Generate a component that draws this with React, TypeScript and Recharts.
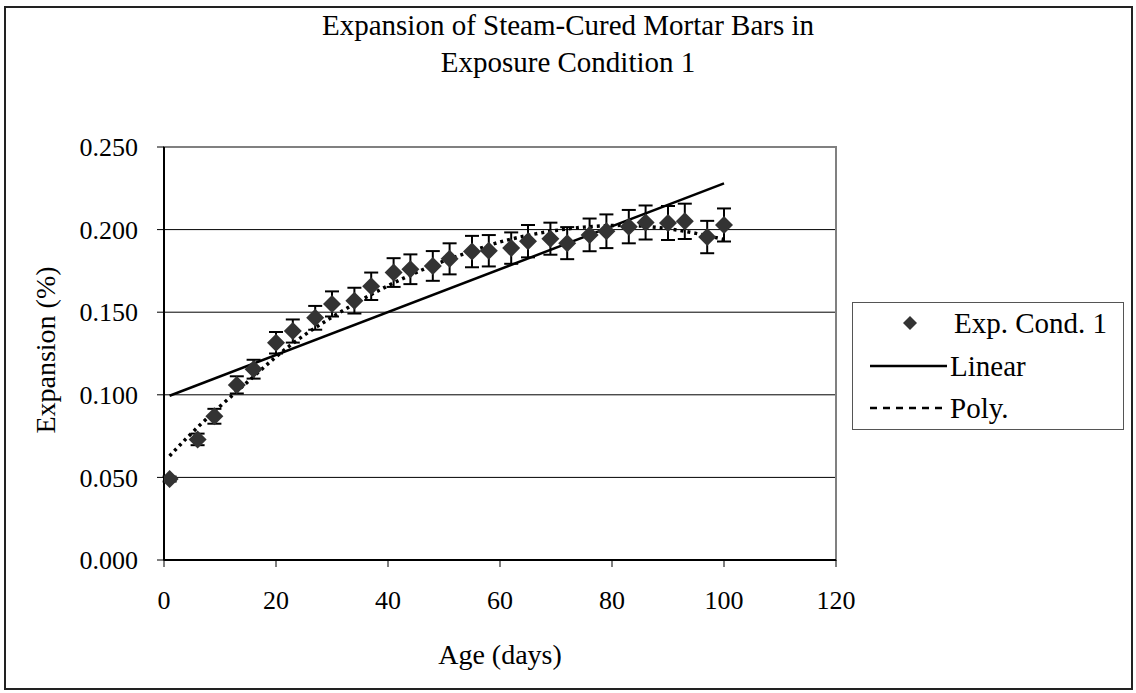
import React from 'react';
import {
  ComposedChart,
  Scatter,
  Line,
  XAxis,
  YAxis,
  CartesianGrid,
  ErrorBar,
  ReferenceArea,
  Legend,
} from 'recharts';

// measured ages (days) and mean expansion (%) with error half-widths
const ages = [1, 6, 9, 13, 16, 20, 23, 27, 30, 34, 37, 41, 44, 48, 51, 55, 58, 62, 65, 69, 72, 76, 79, 83, 86, 90, 93, 97, 100];
const expansion = [
  0.049, 0.073, 0.087, 0.106, 0.1155, 0.1315, 0.1386, 0.1466, 0.155, 0.157, 0.1657, 0.174, 0.176, 0.178, 0.1823,
  0.1867, 0.1872, 0.1888, 0.193, 0.1945, 0.1918, 0.1968, 0.199, 0.2018, 0.2043, 0.204, 0.205, 0.1955, 0.2028,
];
const errors = [
  0.0015, 0.0035, 0.0045, 0.0052, 0.0057, 0.0065, 0.007, 0.0072, 0.0076, 0.0078, 0.0083, 0.0087, 0.009, 0.009, 0.0094,
  0.0095, 0.0095, 0.0095, 0.0098, 0.0097, 0.0097, 0.0099, 0.0102, 0.0101, 0.0103, 0.0103, 0.0107, 0.0098, 0.01,
];

// linear trend line end points
const linearX = [1, 100];
const linearY = [0.0994, 0.228];

// polynomial trend line
const polyX = [1, 5, 10, 15, 20, 25, 30, 35, 40, 45, 50, 55, 60, 65, 70, 75, 80, 85, 90, 95, 100];
const polyY = [
  0.063, 0.077, 0.093, 0.108, 0.123, 0.136, 0.147, 0.157, 0.166, 0.174, 0.181, 0.187, 0.1925, 0.1965, 0.1995, 0.2015,
  0.2025, 0.2022, 0.2005, 0.1977, 0.194,
];

const xTicks = [0, 20, 40, 60, 80, 100, 120];
const yTicks = [0, 0.05, 0.1, 0.15, 0.2, 0.25];

const points = ages.map((x, i) => ({ x, y: expansion[i], err: errors[i] }));
const linear = linearX.map((x, i) => ({ x, y: linearY[i] }));
const poly = polyX.map((x, i) => ({ x, y: polyY[i] }));

const FONT = '"Liberation Serif", "Times New Roman", serif';

const Diamond = (props: any) => {
  const { cx, cy } = props;
  if (cx == null || cy == null) return null;
  const r = 9;
  return <polygon points={`${cx},${cy - r} ${cx + r},${cy} ${cx},${cy + r} ${cx - r},${cy}`} fill="#333333" />;
};

const LegendBox = () => (
  <svg width={272} height={128} style={{ display: 'block' }}>
    <rect x={0.5} y={0.5} width={271} height={127} fill="#fff" stroke="#555" />
    <polygon points="58,14 65,21 58,28 51,21" fill="#333333" />
    <text x={102} y={31} fontFamily={FONT} fontSize={29} fill="#000">Exp. Cond. 1</text>
    <line x1={18} x2={95} y1={64} y2={64} stroke="#000" strokeWidth={2.5} />
    <text x={98} y={74} fontFamily={FONT} fontSize={29} fill="#000">Linear</text>
    <line x1={18} x2={95} y1={106} y2={106} stroke="#000" strokeWidth={2.5} strokeDasharray="7 6" />
    <text x={98} y={116} fontFamily={FONT} fontSize={29} fill="#000">Poly.</text>
  </svg>
);

export default function App() {
  return (
    <div style={{ position: 'relative', width: 1136, height: 693, background: '#fff', fontFamily: FONT }}>
      <style>{`body{margin:0}`}</style>
      {/* outer chart frame */}
      <div
        style={{
          position: 'absolute',
          left: 4,
          top: 6,
          width: 1129,
          height: 684,
          border: '2px solid #222',
          boxSizing: 'border-box',
        }}
      />
      <div
        style={{
          position: 'absolute',
          left: 0,
          width: 1136,
          top: 7,
          textAlign: 'center',
          fontSize: 29,
          lineHeight: '37px',
          color: '#000',
        }}
      >
        <div>Expansion of Steam-Cured Mortar Bars in</div>
        <div>Exposure Condition 1</div>
      </div>
      <div
        style={{
          position: 'absolute',
          left: 46,
          top: 350,
          transform: 'translate(-50%, -50%) rotate(-90deg)',
          fontSize: 28,
          whiteSpace: 'nowrap',
        }}
      >
        Expansion (%)
      </div>
      <div
        style={{
          position: 'absolute',
          left: 500,
          top: 655,
          transform: 'translate(-50%, -50%)',
          fontSize: 28,
          whiteSpace: 'nowrap',
        }}
      >
        Age (days)
      </div>
      <div style={{ position: 'absolute', left: 0, top: 0 }}>
        <ComposedChart width={1136} height={693} margin={{ top: 147, right: 300, bottom: 73, left: 0 }}>
          <CartesianGrid vertical={false} horizontalValues={[0.05, 0.1, 0.15, 0.2]} stroke="#000" strokeWidth={1} />
          <ReferenceArea x1={0} x2={120} y1={0} y2={0.25} fill="none" stroke="#808080" strokeWidth={2} />
          <XAxis
            type="number"
            dataKey="x"
            domain={[0, 120]}
            ticks={xTicks}
            allowDataOverflow
            height={60}
            tickSize={7}
            tickMargin={24}
            axisLine={{ stroke: '#000', strokeWidth: 2 }}
            tickLine={{ stroke: '#000', strokeWidth: 1 }}
            tick={{ fontSize: 26, fontFamily: FONT, fill: '#000' }}
          />
          <YAxis
            type="number"
            dataKey="y"
            domain={[0, 0.25]}
            ticks={yTicks}
            width={164}
            tickSize={7}
            tickMargin={19}
            tickFormatter={(v: number) => v.toFixed(3)}
            axisLine={{ stroke: '#000', strokeWidth: 2 }}
            tickLine={{ stroke: '#000', strokeWidth: 1 }}
            tick={{ fontSize: 26, fontFamily: FONT, fill: '#000' }}
          />
          <Line
            data={linear}
            dataKey="y"
            type="linear"
            stroke="#000"
            strokeWidth={2.5}
            dot={false}
            activeDot={false}
            isAnimationActive={false}
          />
          <Line
            data={poly}
            dataKey="y"
            type="natural"
            stroke="#000"
            strokeWidth={3.5}
            strokeDasharray="3 4"
            dot={false}
            activeDot={false}
            isAnimationActive={false}
          />
          <Scatter data={points} dataKey="y" shape={<Diamond />} isAnimationActive={false}>
            <ErrorBar dataKey="err" direction="y" width={7} stroke="#000" strokeWidth={2} />
          </Scatter>
          <Legend
            layout="horizontal"
            verticalAlign="middle"
            align="center"
            content={() => <LegendBox />}
            wrapperStyle={{ position: 'absolute', left: 852, top: 302, width: 272, height: 128 }}
          />
        </ComposedChart>
      </div>
    </div>
  );
}
